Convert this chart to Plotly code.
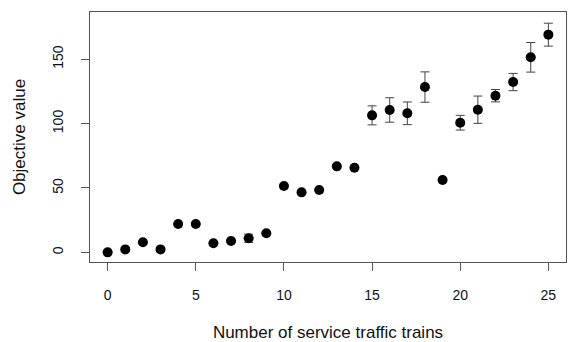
import plotly.graph_objects as go

trains = list(range(26))
objective = [0, 2.3, 7.8, 2.3, 22, 22, 7, 8.8, 10.9, 14.8, 51.5, 46.6, 48.4,
             66.8, 65.7, 106.4, 110.6, 108, 128.4, 56.2, 100.7, 110.8, 121.7,
             132.3, 151.5, 169.1]
error = [0, 0, 0, 0, 0, 0, 0, 0, 3.2, 0, 0, 0, 0, 0, 0, 7.4, 9.5, 8.8, 11.8,
         0, 5.7, 10.6, 4.8, 6.7, 11.5, 8.9]
x_ticks = [0, 5, 10, 15, 20, 25]
y_ticks = [0, 50, 100, 150]

fig = go.Figure()
fig.add_trace(go.Scatter(
    x=trains, y=objective, mode="markers",
    marker=dict(color="black", size=10),
    error_y=dict(type="data", array=error, visible=True, color="#444444",
                 thickness=1, width=4.5),
    showlegend=False, hoverinfo="skip",
))

font = dict(family="Liberation Sans, Arial, sans-serif", size=14, color="#111111")
fig.update_layout(
    width=568, height=342,
    margin=dict(l=90, r=2, t=12, b=80),
    paper_bgcolor="white", plot_bgcolor="white",
    font=font,
    xaxis=dict(range=[-1, 26], tickvals=x_ticks, showgrid=False, zeroline=False,
               showline=True, mirror=True, linecolor="#555555", linewidth=1,
               ticks="outside", ticklen=8, tickcolor="#555555",
               ticklabelstandoff=12, automargin=False,
               title=dict(text="Number of service traffic trains", standoff=30)),
    yaxis=dict(range=[-7.5, 186.7], tickvals=y_ticks, showgrid=False, zeroline=False,
               showline=True, mirror=True, linecolor="#555555", linewidth=1,
               ticks="outside", ticklen=8, tickcolor="#555555", tickangle=-90,
               ticklabelstandoff=12, automargin=False,
               title=dict(text="Objective value", standoff=20)),
)
fig.write_html("out.html", config={"displayModeBar": False},
               post_script="document.body.style.margin='0';document.body.style.overflow='hidden';")
